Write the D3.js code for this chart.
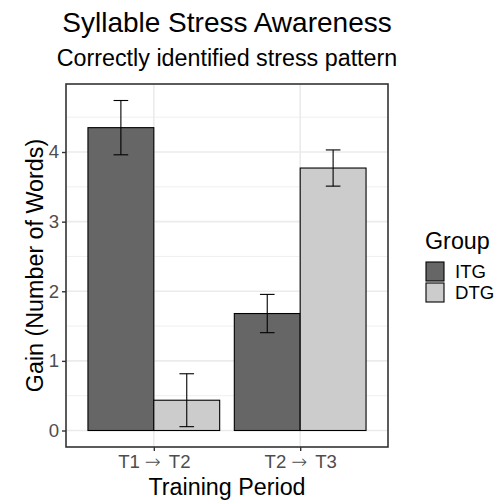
<!DOCTYPE html>
<html>
<head>
<meta charset="utf-8">
<script src="https://cdn.jsdelivr.net/npm/d3@7"></script>
<style>
  body { margin: 0; background: #fff; }
  svg text { font-family: "Liberation Sans", Arial, Helvetica, sans-serif; }
</style>
</head>
<body>
<svg id="chart" width="501" height="502"></svg>
<script>
// Training periods (x categories): start and end test of each period
const periodFrom = ["T1", "T2"];
const periodTo = ["T2", "T3"];
const periods = periodFrom.map((f, i) => `${f} \u2192 ${periodTo[i]}`);
const groups = ["ITG", "DTG"];
const groupColors = ["#666666", "#CCCCCC"];

// Mean gain per group, one value per period
const itgMeans = [4.35, 1.68];
const dtgMeans = [0.435, 3.77];
// Half-width of the error bars
const itgErrors = [0.39, 0.275];
const dtgErrors = [0.38, 0.26];

const yTicks = [0, 1, 2, 3, 4];

const rows = [];
periods.forEach((p, i) => {
  rows.push({ period: p, group: "ITG", mean: itgMeans[i], err: itgErrors[i] });
  rows.push({ period: p, group: "DTG", mean: dtgMeans[i], err: dtgErrors[i] });
});

const svg = d3.select("#chart");
const panel = { left: 66, right: 388, top: 84, bottom: 447 };

// Continuous y with 5% expansion around [0, max upper whisker]
const yMax = d3.max(rows, d => d.mean + d.err);
const yPad = yMax * 0.05;
const y = d3.scaleLinear()
  .domain([0 - yPad, yMax + yPad])
  .range([panel.bottom, panel.top]);

// Discrete x: categories one unit apart, 0.6 unit padding on each side
const x = d3.scalePoint()
  .domain(periods)
  .range([panel.left, panel.right])
  .padding(0.6);
const unit = x.step();

const xg = d3.scaleBand().domain(groups).range([-0.45 * unit, 0.45 * unit]);
const color = d3.scaleOrdinal().domain(groups).range(groupColors);
const barCenter = d => x(d.period) + xg(d.group) + xg.bandwidth() / 2;

// Panel background
svg.append("rect")
  .attr("x", panel.left).attr("y", panel.top)
  .attr("width", panel.right - panel.left).attr("height", panel.bottom - panel.top)
  .attr("fill", "#fff");

// Grid lines
const minor = d3.range(0.5, yMax + yPad, 1);
svg.append("g").selectAll("line").data(minor).join("line")
  .attr("x1", panel.left).attr("x2", panel.right)
  .attr("y1", d => y(d)).attr("y2", d => y(d))
  .attr("stroke", "#EBEBEB").attr("stroke-width", 0.8);
svg.append("g").selectAll("line").data(yTicks).join("line")
  .attr("x1", panel.left).attr("x2", panel.right)
  .attr("y1", d => y(d)).attr("y2", d => y(d))
  .attr("stroke", "#EBEBEB").attr("stroke-width", 1.6);
svg.append("g").selectAll("line").data(periods).join("line")
  .attr("x1", d => x(d)).attr("x2", d => x(d))
  .attr("y1", panel.top).attr("y2", panel.bottom)
  .attr("stroke", "#EBEBEB").attr("stroke-width", 1.6);

// Bars
svg.append("g").selectAll("rect").data(rows).join("rect")
  .attr("x", d => x(d.period) + xg(d.group))
  .attr("width", xg.bandwidth())
  .attr("y", d => y(d.mean))
  .attr("height", d => y(0) - y(d.mean))
  .attr("fill", d => color(d.group))
  .attr("stroke", "#000").attr("stroke-width", 1.1);

// Error bars
const capHalf = 0.05 * unit;
const eb = svg.append("g").selectAll("g").data(rows).join("g")
  .attr("stroke", "#000").attr("stroke-width", 1.1);
eb.append("line")
  .attr("x1", barCenter).attr("x2", barCenter)
  .attr("y1", d => y(d.mean - d.err)).attr("y2", d => y(d.mean + d.err));
eb.append("line")
  .attr("x1", d => barCenter(d) - capHalf).attr("x2", d => barCenter(d) + capHalf)
  .attr("y1", d => y(d.mean + d.err)).attr("y2", d => y(d.mean + d.err));
eb.append("line")
  .attr("x1", d => barCenter(d) - capHalf).attr("x2", d => barCenter(d) + capHalf)
  .attr("y1", d => y(d.mean - d.err)).attr("y2", d => y(d.mean - d.err));

// Panel border
svg.append("rect")
  .attr("x", panel.left).attr("y", panel.top)
  .attr("width", panel.right - panel.left).attr("height", panel.bottom - panel.top)
  .attr("fill", "none").attr("stroke", "#333333").attr("stroke-width", 1.6);

const tickFont = "18.6px";
const titleFont = "23.3px";

// Y axis
const yAxis = d3.axisLeft(y).tickValues(yTicks).tickSize(4).tickPadding(3).tickFormat(d3.format("d"));
const gy = svg.append("g").attr("transform", `translate(${panel.left},0)`).call(yAxis);
gy.select(".domain").remove();
gy.selectAll(".tick line").attr("stroke", "#333333").attr("stroke-width", 1.4);
gy.selectAll(".tick text").attr("fill", "#4D4D4D").style("font-size", tickFont)
  .style("font-family", "'Liberation Sans', Arial, sans-serif");

// X axis: labels built as "from → to" with a math-style arrow
const xAxis = d3.axisBottom(x).tickSize(4).tickPadding(4);
const gx = svg.append("g").attr("transform", `translate(0,${panel.bottom})`).call(xAxis);
gx.select(".domain").remove();
gx.selectAll(".tick line").attr("stroke", "#333333").attr("stroke-width", 1.4);
gx.selectAll(".tick text").each(function (d, i) {
  const t = d3.select(this).text(null)
    .attr("fill", "#4D4D4D").style("font-size", tickFont)
    .style("font-family", "'Liberation Sans', Arial, sans-serif");
  t.append("tspan").text(periodFrom[i]);
  t.append("tspan").attr("dx", 5).style("font-family", "'DejaVu Sans', sans-serif")
    .style("font-weight", 200).style("font-size", "19px").text("\u2192");
  t.append("tspan").attr("dx", 8).text(periodTo[i]);
});

// Axis titles
svg.append("text")
  .attr("x", (panel.left + panel.right) / 2).attr("y", 495)
  .attr("text-anchor", "middle").style("font-size", titleFont).attr("fill", "#000")
  .text("Training Period");
svg.append("text")
  .attr("transform", `translate(43,${(panel.top + panel.bottom) / 2}) rotate(-90)`)
  .attr("text-anchor", "middle").style("font-size", titleFont).attr("fill", "#000")
  .text("Gain (Number of Words)");

// Titles
svg.append("text")
  .attr("x", (panel.left + panel.right) / 2).attr("y", 32)
  .attr("text-anchor", "middle").style("font-size", "28px").attr("fill", "#000")
  .text("Syllable Stress Awareness");
svg.append("text")
  .attr("x", (panel.left + panel.right) / 2).attr("y", 66)
  .attr("text-anchor", "middle").style("font-size", titleFont).attr("fill", "#000")
  .text("Correctly identified stress pattern");

// Legend
const legend = svg.append("g").attr("transform", "translate(425,0)");
legend.append("text").attr("x", 0).attr("y", 249)
  .style("font-size", titleFont).attr("fill", "#000").text("Group");
const keyH = 21;
const items = legend.selectAll("g.key").data(groups).join("g").attr("class", "key")
  .attr("transform", (d, i) => `translate(0,${261 + i * keyH})`);
items.append("rect")
  .attr("x", 1).attr("y", 1).attr("width", 18).attr("height", keyH - 2)
  .attr("fill", d => color(d)).attr("stroke", "#000").attr("stroke-width", 1.1);
items.append("text")
  .attr("x", 30).attr("y", keyH / 2).attr("dy", "0.35em")
  .style("font-size", tickFont).attr("fill", "#000").text(d => d);
</script>
</body>
</html>
